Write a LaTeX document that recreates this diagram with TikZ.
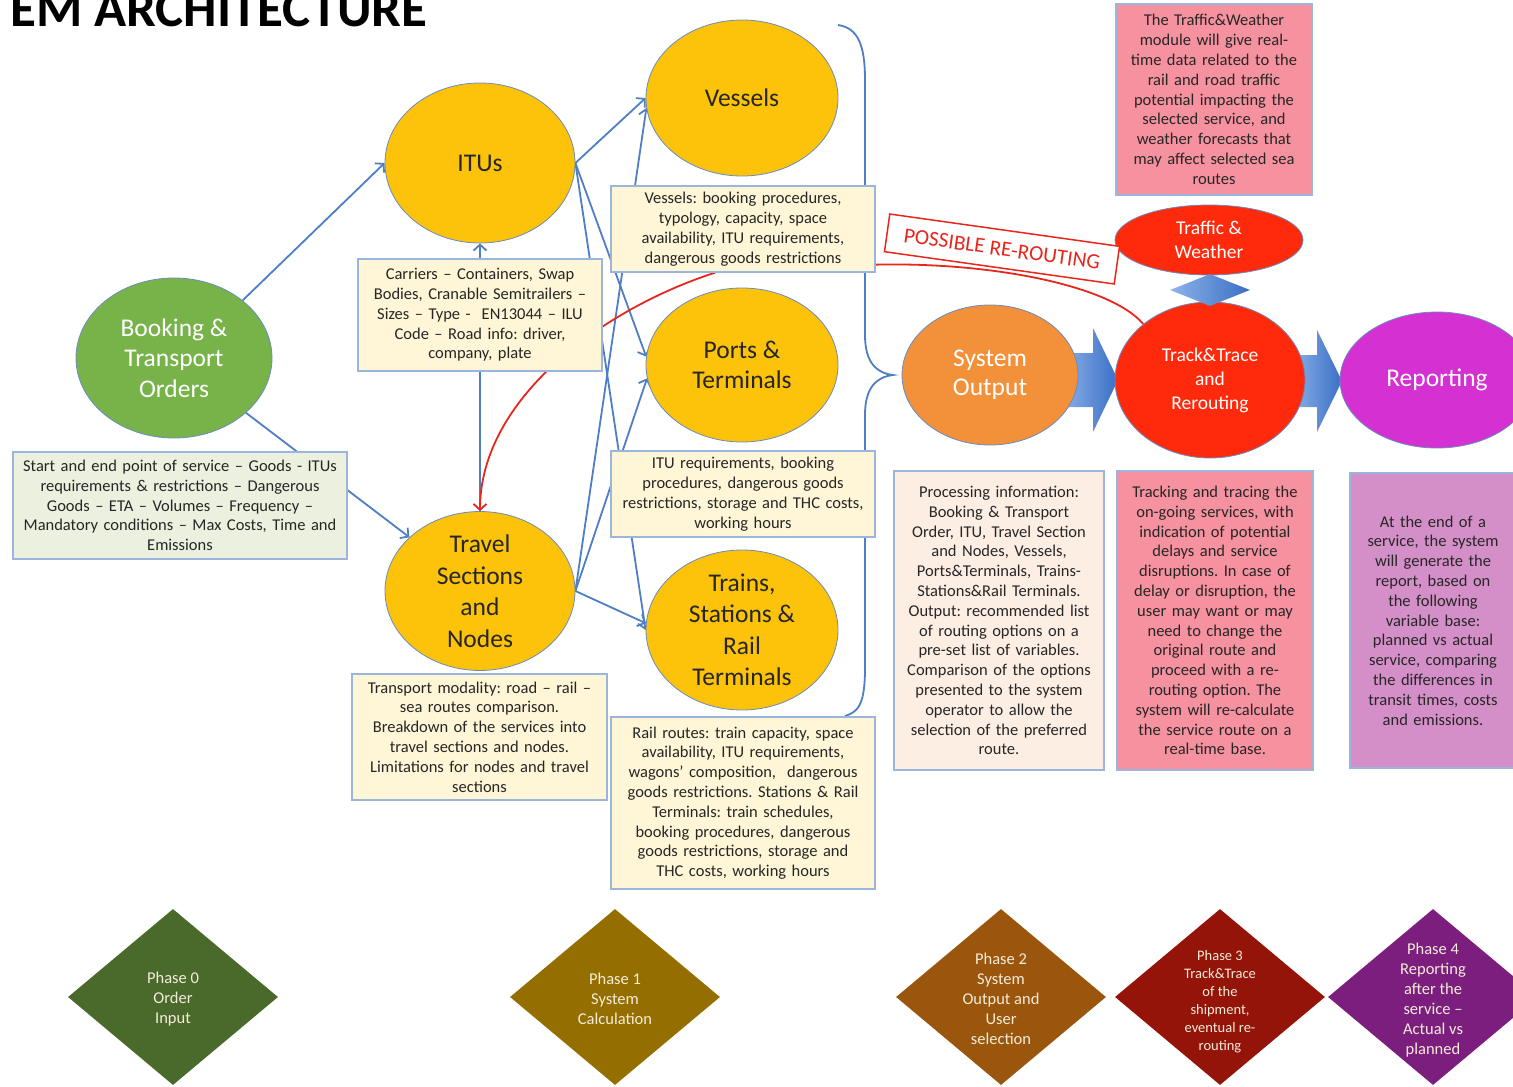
\documentclass[tikz,border=0pt]{standalone}
\usepackage{fontspec}
\setmainfont{Carlito}
\usetikzlibrary{shapes.geometric,arrows.meta,backgrounds}
\definecolor{cgreen}{HTML}{78B34A}
\definecolor{cyellow}{HTML}{FDC20A}
\definecolor{corange}{HTML}{F2913A}
\definecolor{cred}{HTML}{FF2A0C}
\definecolor{cmagenta}{HTML}{D430D2}
\definecolor{ellline}{HTML}{6A8BC0}
\definecolor{connblue}{HTML}{4E7EC4}
\definecolor{boxline}{HTML}{9BB5DD}
\definecolor{infoyellow}{HTML}{FEF6D6}
\definecolor{infogreen}{HTML}{EBF1DE}
\definecolor{infopeach}{HTML}{FDEEE4}
\definecolor{infopink}{HTML}{F6919F}
\definecolor{infopurple}{HTML}{D48FC8}
\definecolor{textdark}{HTML}{262626}
\definecolor{linered}{HTML}{E8261C}
\definecolor{pzero}{HTML}{4A6A2B}
\definecolor{pone}{HTML}{946F00}
\definecolor{ptwo}{HTML}{9A560D}
\definecolor{pthree}{HTML}{941409}
\definecolor{pfour}{HTML}{7B1E7D}
\definecolor{phasetxt}{HTML}{F5ECD9}
\definecolor{arrowlight}{HTML}{8DB3EA}
\definecolor{arrowdark}{HTML}{3A6FC4}
\frenchspacing
\begin{document}
\begin{tikzpicture}[x=1pt,y=-1pt,
  ell/.style={ellipse, inner sep=0pt, draw=ellline, line width=0.8pt, align=center},
  bigtext/.style={font=\fontsize{25.5}{30.5}\selectfont},
  midtext/.style={font=\fontsize{19.5}{24}\selectfont},
  infobox/.style={draw=boxline, line width=1.3pt, fill=infoyellow, align=center, inner sep=0pt,
    text=textdark, font=\fontsize{16.5}{19.8}\selectfont},
  phasebox/.style={diamond, inner sep=0pt, minimum width=210pt, minimum height=176pt},
  phasetext/.style={align=center, text=phasetxt, inner sep=0pt, font=\fontsize{16.5}{20}\selectfont},
  conn/.style={draw=connblue, line width=1.8pt, -{Straight Barb[length=6pt,width=13pt]}},
  plainconn/.style={draw=connblue, line width=1.8pt},
  redline/.style={draw=linered, line width=1.8pt},
  blockarrow/.style={left color=arrowlight, right color=arrowdark, draw=none}
]
\useasboundingbox (0,0) rectangle (1513,1087);

% title
\node[anchor=base west, inner sep=0pt, font=\fontsize{53}{60}\selectfont\bfseries] (title) at (10,26) {EM ARCHITECTURE};

% ellipses
\node[ell, fill=cgreen, text=white, bigtext, minimum width=196pt, minimum height=160pt] (booking) at (174,358) {Booking \&\\Transport\\Orders};
\node[ell, fill=cyellow, text=textdark, bigtext, minimum width=190pt, minimum height=160pt] (itus) at (480,163) {ITUs};
\node[ell, fill=cyellow, text=textdark, font=\fontsize{25.5}{31.5}\selectfont, minimum width=190pt, minimum height=158pt] (travel) at (480,591) {Travel\\Sections\\and\\Nodes};
\node[ell, fill=cyellow, text=textdark, bigtext, minimum width=192pt, minimum height=156pt] (vessels) at (742,98) {Vessels};
\node[ell, fill=cyellow, text=textdark, bigtext, minimum width=192pt, minimum height=154pt] (ports) at (742,365) {Ports \&\\Terminals};
\node[ell, fill=cyellow, text=textdark, font=\fontsize{25.5}{31.5}\selectfont, minimum width=192pt, minimum height=160pt] (trains) at (742,630) {Trains,\\Stations \&\\Rail\\Terminals};
\node[ell, fill=corange, text=white, font=\fontsize{25.5}{29.5}\selectfont, minimum width=176pt, minimum height=140pt] (sysout) at (990,375) {System\\Output};
\node[ell, fill=cred, text=white, midtext, minimum width=190pt, minimum height=156pt] (track) at (1210,380) {Track\&Trace\\and\\Rerouting};
\node[ell, fill=cred, text=white, midtext, minimum width=188pt, minimum height=70pt] (traffic) at (1209,240) {Traffic \&\\Weather};
\node[ell, fill=cmagenta, text=white, bigtext, minimum width=194pt, minimum height=136pt] (report) at (1437,380) {Reporting};
\node[diamond, inner sep=0pt, minimum width=80pt, minimum height=32pt, left color=arrowlight, right color=arrowdark] (twlink) at (1210,290) {};

% info boxes
\node[infobox, minimum width=244pt, minimum height=112pt, text width=238pt] (itubox) at (480,315)
  {Carriers – Containers, Swap\\Bodies, Cranable Semitrailers –\\Sizes – Type -\ \ EN13044 – ILU\\Code – Road info: driver,\\company, plate};
\node[infobox, minimum width=264pt, minimum height=86pt, text width=258pt] (vinfo) at (743,229)
  {Vessels: booking procedures,\\typology, capacity, space\\availability, ITU requirements,\\dangerous goods restrictions};
\node[infobox, minimum width=264pt, minimum height=86pt, text width=258pt] (pinfo) at (743,494)
  {ITU requirements, booking\\procedures, dangerous goods\\restrictions, storage and THC costs,\\working hours};
\node[infobox, minimum width=264pt, minimum height=172pt, text width=258pt] (rinfo) at (743,803)
  {Rail routes: train capacity, space\\availability, ITU requirements,\\wagons’ composition,\ \ dangerous\\goods restrictions. Stations \& Rail\\Terminals: train schedules,\\booking procedures, dangerous\\goods restrictions, storage and\\THC costs, working hours};
\node[infobox, minimum width=255pt, minimum height=126pt, text width=249pt] (tinfo) at (479.5,737)
  {Transport modality: road – rail –\\sea routes comparison.\\Breakdown of the services into\\travel sections and nodes.\\Limitations for nodes and travel\\sections};
\node[infobox, fill=infogreen, minimum width=334pt, minimum height=107pt, text width=328pt] (ginfo) at (180,505.5)
  {Start and end point of service – Goods - ITUs\\requirements \& restrictions – Dangerous\\Goods – ETA – Volumes – Frequency –\\Mandatory conditions – Max Costs, Time and\\Emissions};
\node[infobox, fill=infopeach, minimum width=210pt, minimum height=299pt, text width=204pt] (soinfo) at (999,620.5)
  {Processing information:\\Booking \& Transport\\Order, ITU, Travel Section\\and Nodes, Vessels,\\Ports\&Terminals, Trains-\\Stations\&Rail Terminals.\\Output: recommended list\\of routing options on a\\pre-set list of variables.\\Comparison of the options\\presented to the system\\operator to allow the\\selection of the preferred\\route.};
\node[infobox, fill=infopink, minimum width=196pt, minimum height=299pt, text width=190pt] (ttinfo) at (1215,620.5)
  {Tracking and tracing the\\on-going services, with\\indication of potential\\delays and service\\disruptions. In case of\\delay or disruption, the\\user may want or may\\need to change the\\original route and\\proceed with a re-\\routing option. The\\system will re-calculate\\the service route on a\\real-time base.};
\node[infobox, fill=infopurple, minimum width=166pt, minimum height=295pt, text width=160pt] (repinfo) at (1433,620.5)
  {At the end of a\\service, the system\\will generate the\\report, based on\\the following\\variable base:\\planned vs actual\\service, comparing\\the differences in\\transit times, costs\\and emissions.};
\node[infobox, fill=infopink, minimum width=196pt, minimum height=191pt, text width=190pt] (twinfo) at (1214,99.5)
  {The Traffic\&Weather\\module will give real-\\time data related to the\\rail and road traffic\\potential impacting the\\selected service, and\\weather forecasts that\\may affect selected sea\\routes};

% possible re-routing
\node[draw=linered, line width=1.5pt, fill=white, rotate=-8, minimum width=232pt, minimum height=38pt, inner sep=0pt,
  text=linered, font=\fontsize{21.5}{24}\selectfont] (reroute) at (1002,249) {POSSIBLE RE-ROUTING};

% phases
\node[phasebox, fill=pzero] (ph0) at (173,997) {};
\node[phasetext] (ph0t) at (173,999) {Phase 0\\Order\\Input};
\node[phasebox, fill=pone] (ph1) at (615,997) {};
\node[phasetext] (ph1t) at (615,999) {Phase 1\\System\\Calculation};
\node[phasebox, fill=ptwo] (ph2) at (1001,997) {};
\node[phasetext] (ph2t) at (1001,999) {Phase 2\\System\\Output and\\User\\selection};
\node[phasebox, fill=pthree] (ph3) at (1220,997) {};
\node[phasetext, font=\fontsize{14.5}{18}\selectfont] (ph3t) at (1220,1002) {Phase 3\\Track\&Trace\\of the\\shipment,\\eventual re-\\routing};
\node[phasebox, fill=pfour] (ph4) at (1433,997) {};
\node[phasetext] (ph4t) at (1433,1000) {Phase 4\\Reporting\\after the\\service –\\Actual vs\\planned};

% connectors and decorations beneath
\begin{scope}[on background layer]
  \path[blockarrow] (1060,353) -- (1093,353) -- (1093,328) -- (1118,380) -- (1093,432) -- (1093,407) -- (1060,407) -- cycle;
  \path[blockarrow] (1290,355) -- (1317,355) -- (1317,330) -- (1342,381) -- (1317,432) -- (1317,407) -- (1290,407) -- cycle;

  \draw[conn] (booking.40) -- (itus.west);
  \draw[conn] (booking) -- (travel);
  \draw[conn] (travel.north) -- (itus.south);
  \draw[conn] (itus.east) -- (vessels.west);
  \draw[conn] (itus.east) -- (ports.175);
  \draw[conn] (itus.east) -- (trains.west);
  \draw[conn] (travel.east) -- (vessels.186);
  \draw[conn] (travel.east) -- (ports.188);
  \draw[conn] (travel.east) -- (trains.176);

  % brace
  \draw[plainconn] (838,25) .. controls (858,28) and (865,45) .. (865,80) -- (865,335)
     .. controls (865,362) and (876,373) .. (893,375)
     .. controls (876,377) and (865,388) .. (865,415) -- (865,668)
     .. controls (865,705) and (858,712) .. (845,716);

  % red connectors
  \draw[redline] ([yshift=8pt]vinfo.south east) .. controls (990,262) and (1110,285) .. (track.140);
  \draw[redline, -{Straight Barb[length=6pt,width=13pt]}] ([xshift=-28pt]vinfo.south) .. controls (600,310) and (480,400) .. (travel.north);
\end{scope}
\end{tikzpicture}
\end{document}
